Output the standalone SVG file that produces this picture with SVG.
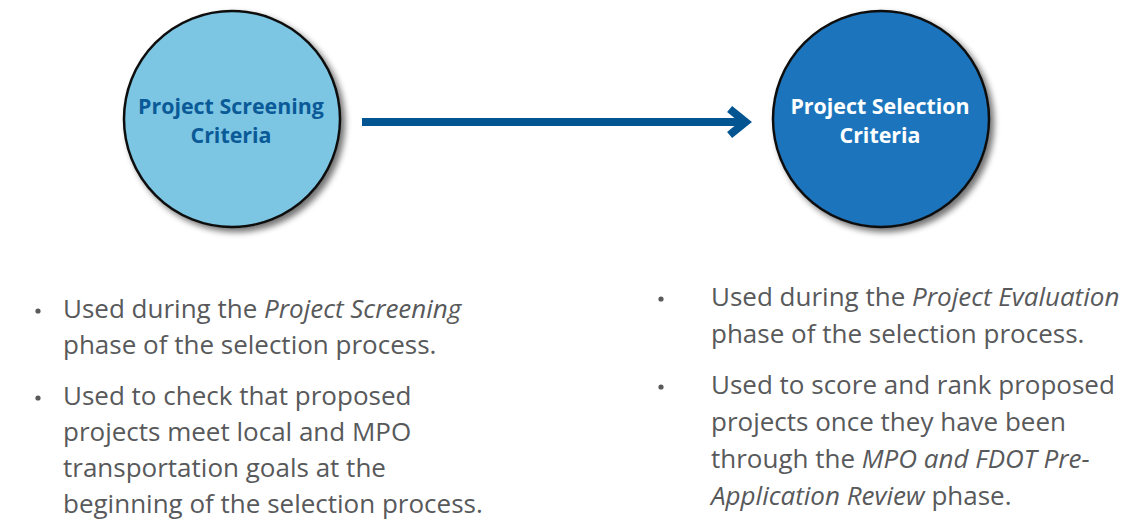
<svg xmlns="http://www.w3.org/2000/svg" width="1132" height="520" viewBox="0 0 1132 520">
  <style>
    .node-circle { stroke: #111111; stroke-width: 2.5; filter: url(#drop); }
    .screen { fill: #7cc6e3; }
    .select { fill: #1c75bc; }
    .label { font-family: "Open Sans", Lato, sans-serif; font-weight: 700; font-size: 21.4px; text-anchor: middle; }
    .label-dark { fill: #0b5a98; }
    .label-light { fill: #ffffff; }
    .body { font-family: "Open Sans", Lato, sans-serif; font-size: 26px; fill: #58595b; }
    .em { font-style: italic; }
    .bullet { fill: #58595b; }
    .link { fill: none; stroke: #035592; stroke-width: 8; }
  </style>
  <defs>
    <filter id="drop" x="-20%" y="-20%" width="140%" height="140%">
      <feGaussianBlur in="SourceAlpha" stdDeviation="3"/>
      <feOffset dx="4" dy="4" result="blur"/>
      <feComponentTransfer><feFuncA type="linear" slope="0.55"/></feComponentTransfer>
      <feMerge><feMergeNode/><feMergeNode in="SourceGraphic"/></feMerge>
    </filter>
    <marker id="chevron" markerUnits="userSpaceOnUse" viewBox="0 0 40 50" markerWidth="40" markerHeight="50" refX="21.4" refY="25" orient="auto" overflow="visible">
      <polyline points="6,12 22,25 6,38" fill="none" stroke="#035592" stroke-width="8" stroke-linejoin="miter"/>
    </marker>
  </defs>

  <rect width="1132" height="520" fill="#ffffff"/>

  <!-- connectors -->
  <g id="connectors">
    <path class="link" d="M362,122 H745" marker-end="url(#chevron)"/>
  </g>

  <!-- screening criteria node -->
  <g id="node-screening">
    <circle class="node-circle screen" cx="232" cy="119" r="108"/>
    <text class="label label-dark" x="231" y="114">Project Screening</text>
    <text class="label label-dark" x="231" y="143">Criteria</text>
  </g>

  <!-- selection criteria node -->
  <g id="node-selection">
    <circle class="node-circle select" cx="881" cy="119" r="108"/>
    <text class="label label-light" x="880" y="114">Project Selection</text>
    <text class="label label-light" x="880" y="143">Criteria</text>
  </g>

  <!-- notes under the screening node -->
  <g id="notes-screening">
    <circle class="bullet" cx="38" cy="311" r="2.6"/>
    <text class="body" x="63" y="318">Used during the <tspan class="em">Project Screening</tspan></text>
    <text class="body" x="63" y="354">phase of the selection process.</text>
    <circle class="bullet" cx="38" cy="398" r="2.6"/>
    <text class="body" x="63" y="405">Used to check that proposed</text>
    <text class="body" x="63" y="441">projects meet local and MPO</text>
    <text class="body" x="63" y="477">transportation goals at the</text>
    <text class="body" x="63" y="513">beginning of the selection process.</text>
  </g>

  <!-- notes under the selection node -->
  <g id="notes-selection">
    <circle class="bullet" cx="661" cy="299" r="2.6"/>
    <text class="body" x="711" y="306">Used during the <tspan class="em">Project Evaluation</tspan></text>
    <text class="body" x="711" y="343">phase of the selection process.</text>
    <circle class="bullet" cx="661" cy="387" r="2.6"/>
    <text class="body" x="711" y="394">Used to score and rank proposed</text>
    <text class="body" x="711" y="431">projects once they have been</text>
    <text class="body" x="711" y="468">through the <tspan class="em">MPO and FDOT Pre-</tspan></text>
    <text class="body" x="711" y="505"><tspan class="em">Application Review</tspan> phase.</text>
  </g>
</svg>
